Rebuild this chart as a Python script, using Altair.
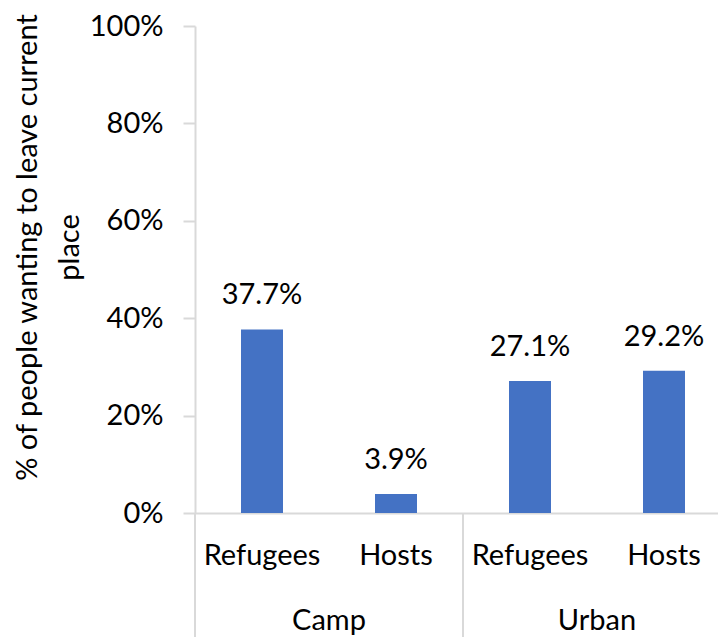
import altair as alt
import pandas as pd

# Survey results: share of people wanting to leave their current place
groups = ["Camp", "Camp", "Urban", "Urban"]
subgroups = ["Refugees", "Hosts", "Refugees", "Hosts"]
shares = [37.7, 3.9, 27.1, 29.2]
y_ticks = [0, 20, 40, 60, 80, 100]
group_names = ["Camp", "Urban"]

FONT = "Lato"
FS = 29
GREY = "#d9d9d9"
BAR = "#4472c4"

df = pd.DataFrame({"group": groups, "sub": subgroups, "share": shares})
df["key"] = df["group"] + "|" + df["sub"]
df["label"] = df["share"].map(lambda v: f"{v:.1f}%")

n = len(df)
STEP = 134
BAND = 42
RANGE_W = STEP * n
PLOT_W = 523
PLOT_H = 487
TOP = 26
BOTTOM = 124
inner = 1 - BAND / STEP

x_band = alt.X(
    "key:N",
    sort=list(df["key"]),
    scale=alt.Scale(range=[0, RANGE_W], paddingInner=inner, paddingOuter=inner / 2),
    axis=alt.Axis(
        title=None,
        domainColor=GREY,
        domainWidth=2,
        ticks=False,
        labelAngle=0,
        labelExpr="split(datum.value, '|')[1]",
        labelFontSize=FS,
        labelPadding=28,
        labelColor="black",
    ),
)

y_val = alt.Y(
    "share:Q",
    scale=alt.Scale(domain=[0, 100]),
    axis=alt.Axis(
        values=y_ticks,
        labelExpr="datum.value + '%'",
        grid=False,
        domainColor=GREY,
        domainWidth=2,
        tickColor=GREY,
        tickWidth=2,
        tickSize=12,
        labelFontSize=FS,
        labelPadding=20,
        labelColor="black",
        title=["% of people wanting to leave current", "place"],
        titleFontSize=29,
        titleFontWeight="normal",
        titleColor="black",
        titleAngle=270,
        titleAlign="center",
        titleBaseline="top",
        titleLineHeight=42,
        titleX=-182,
        titleY=221,
    ),
)

base = alt.Chart(df)
bars = base.mark_bar(color=BAR).encode(x=x_band, y=y_val)
labels = base.mark_text(fontSize=FS, baseline="alphabetic", dy=-25, color="black").encode(
    x=x_band, y=y_val, text="label:N"
)

# Group separators and group names below the category labels
bounds = pd.DataFrame({"pos": [0, 2, 4]})
names = pd.DataFrame({"pos": [1, 3], "name": group_names})
x_pos = alt.X("pos:Q", scale=alt.Scale(domain=[0, n], range=[0, RANGE_W]), axis=None)

seps = alt.Chart(bounds).mark_rule(color=GREY, strokeWidth=2).encode(
    x=x_pos, y=alt.value(PLOT_H), y2=alt.value(PLOT_H + BOTTOM)
)
group_text = alt.Chart(names).mark_text(fontSize=FS, baseline="alphabetic", color="black").encode(
    x=x_pos, y=alt.value(PLOT_H + 117), text="name:N"
)

main = alt.layer(bars, labels)
chart = (
    alt.layer(main, seps, group_text)
    .resolve_scale(x="independent")
    .properties(
        width=PLOT_W,
        height=PLOT_H,
        padding={"left": 195, "top": TOP, "right": 0, "bottom": BOTTOM},
        autosize=alt.AutoSizeParams(type="none"),
    )
    .configure(font=FONT)
    .configure_view(stroke=None)
)

chart.save("out.html", embed_options={"renderer": "svg", "actions": False})
